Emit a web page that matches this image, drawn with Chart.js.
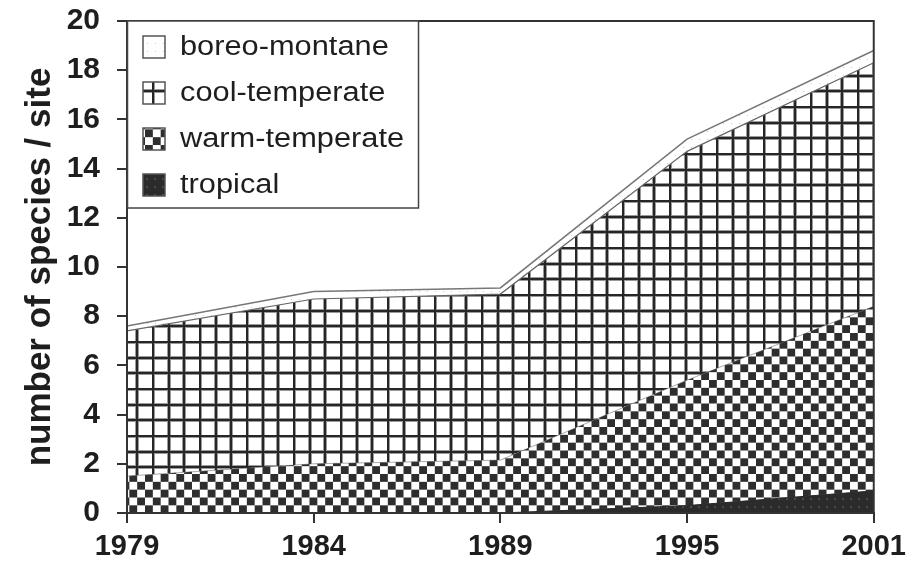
<!DOCTYPE html>
<html>
<head>
<meta charset="utf-8">
<script src="https://cdn.jsdelivr.net/npm/chart.js@4/dist/chart.umd.min.js"></script>
<style>
  html, body { margin: 0; padding: 0; background: #fff; }
  #wrap { width: 913px; height: 565px; }
</style>
</head>
<body>
<div id="wrap"><canvas id="grafico"></canvas></div>
<script>
// valores (empilhados, de baixo para cima)
const anos = ['1979', '1984', '1989', '1995', '2001'];
const tropical = [0, 0, 0, 0.3, 0.9];
const warmTemperate = [1.5, 2.0, 2.15, 5.1, 7.5];
const coolTemperate = [5.9, 6.7, 6.75, 9.3, 9.9];
const boreoMontane = [0.2, 0.3, 0.25, 0.5, 0.5];
const yMax = 20;
const yStep = 2;

const canvas = document.getElementById('grafico');
const ctx = canvas.getContext('2d');

function makePattern(size, draw, dx, dy) {
  const c = document.createElement('canvas');
  c.width = size;
  c.height = size;
  const g = c.getContext('2d');
  draw(g, size);
  const p = ctx.createPattern(c, 'repeat');
  if (dx || dy) p.setTransform(new DOMMatrix().translate(dx || 0, dy || 0));
  return p;
}

// quadriculado (cool-temperate)
const gradePattern = makePattern(47, (g, s) => {
  g.fillStyle = '#fff';
  g.fillRect(0, 0, s, s);
  for (let i = 0; i < 3; i++) {
    const p = Math.round(i * s / 3);
    g.fillStyle = '#9a9a9a';
    g.fillRect(p - 1, 0, 4, s);
    g.fillRect(0, p - 1, s, 4);
  }
  for (let i = 0; i < 3; i++) {
    const p = Math.round(i * s / 3);
    g.fillStyle = '#262626';
    g.fillRect(p, 0, 2, s);
    g.fillRect(0, p, s, 2);
  }
}, 11, 12);

// xadrez (warm-temperate)
const xadrezPattern = makePattern(47, (g, s) => {
  g.fillStyle = '#fff';
  g.fillRect(0, 0, s, s);
  g.fillStyle = '#2e2e2e';
  const cell = s / 6;
  for (let r = 0; r < 6; r++) {
    for (let c = 0; c < 6; c++) {
      if ((r + c) % 2 === 0) g.fillRect(c * cell, r * cell, cell, cell);
    }
  }
}, 4, 4);

// escuro (tropical)
const tropicalPattern = makePattern(8, (g, s) => {
  g.fillStyle = '#2b2b2b';
  g.fillRect(0, 0, s, s);
  g.fillStyle = '#4a4a4a';
  g.fillRect(2, 2, 2, 2);
});

// pontilhado claro (boreo-montane)
const boreoPattern = makePattern(8, (g, s) => {
  g.fillStyle = '#fff';
  g.fillRect(0, 0, s, s);
  g.fillStyle = '#c8c8c8';
  g.fillRect(3, 3, 1, 1);
});

const legendaCaixa = {
  id: 'legendaCaixa',
  afterDraw(chart) {
    const c = chart.ctx;
    const a = chart.chartArea;
    c.save();
    // moldura da área do gráfico
    c.strokeStyle = '#333';
    c.lineWidth = 2;
    c.strokeRect(a.left, a.top, a.right - a.left, a.bottom - a.top);

    const x0 = a.left, y0 = a.top, w = 291, h = 187;
    c.fillStyle = '#fff';
    c.fillRect(x0, y0, w, h);
    c.strokeStyle = '#444';
    c.lineWidth = 1.5;
    c.strokeRect(x0 + 0.5, y0, w, h);

    const itens = chart.data.datasets.slice().reverse();
    const linhas = [47, 93, 139, 185];
    itens.forEach((ds, i) => {
      const cy = linhas[i];
      c.fillStyle = ds.backgroundColor;
      c.fillRect(x0 + 16, cy - 11, 22, 22);
      c.strokeStyle = '#555';
      c.lineWidth = 1.5;
      c.strokeRect(x0 + 16, cy - 11, 22, 22);
      c.save();
      c.translate(x0 + 53, cy);
      c.scale(1.14, 1);
      c.fillStyle = '#1e1e1e';
      c.font = '27px "Liberation Sans", Arial, sans-serif';
      c.textBaseline = 'middle';
      c.fillText(ds.label, 0, 1);
      c.restore();
    });
    c.restore();
  }
};

new Chart(canvas, {
  type: 'line',
  data: {
    labels: anos,
    datasets: [
      { label: 'tropical', data: tropical, fill: 'origin', backgroundColor: tropicalPattern, borderColor: '#2b2b2b', borderWidth: 1 },
      { label: 'warm-temperate', data: warmTemperate, fill: '-1', backgroundColor: xadrezPattern, borderColor: '#555', borderWidth: 0.5 },
      { label: 'cool-temperate', data: coolTemperate, fill: '-1', backgroundColor: gradePattern, borderColor: '#666', borderWidth: 1.2 },
      { label: 'boreo-montane', data: boreoMontane, fill: '-1', backgroundColor: boreoPattern, borderColor: '#777', borderWidth: 1.5 }
    ]
  },
  options: {
    responsive: true,
    maintainAspectRatio: false,
    animation: false,
    layout: { padding: { top: 21, right: 37, left: 0, bottom: 0 } },
    elements: { point: { radius: 0 }, line: { tension: 0 } },
    plugins: {
      legend: { display: false },
      tooltip: { enabled: false }
    },
    scales: {
      x: {
        offset: false,
        grid: { drawOnChartArea: false, tickLength: 10, color: '#333', lineWidth: 2 },
        border: { color: '#333', width: 2 },
        ticks: {
          color: '#1e1e1e',
          padding: 7,
          maxRotation: 0,
          font: { family: '"Liberation Sans", Arial, sans-serif', size: 29, weight: 'bold' }
        },
        afterFit(scale) { scale.height = 52; }
      },
      y: {
        stacked: true,
        min: 0,
        max: yMax,
        grid: { drawOnChartArea: false, tickLength: 10, color: '#333', lineWidth: 2 },
        border: { color: '#333', width: 2 },
        ticks: {
          stepSize: yStep,
          color: '#1e1e1e',
          padding: 17,
          font: { family: '"Liberation Sans", Arial, sans-serif', size: 30, weight: 'bold' }
        },
        title: {
          display: true,
          text: 'number of species / site',
          color: '#1e1e1e',
          padding: { top: 19, bottom: 0 },
          font: { family: '"Liberation Sans", Arial, sans-serif', size: 35, weight: 'bold' }
        },
        afterFit(scale) {
          scale.width = 127;
          scale.paddingTop = 0;
          scale.paddingBottom = 0;
        }
      }
    }
  },
  plugins: [legendaCaixa]
});
</script>
</body>
</html>
